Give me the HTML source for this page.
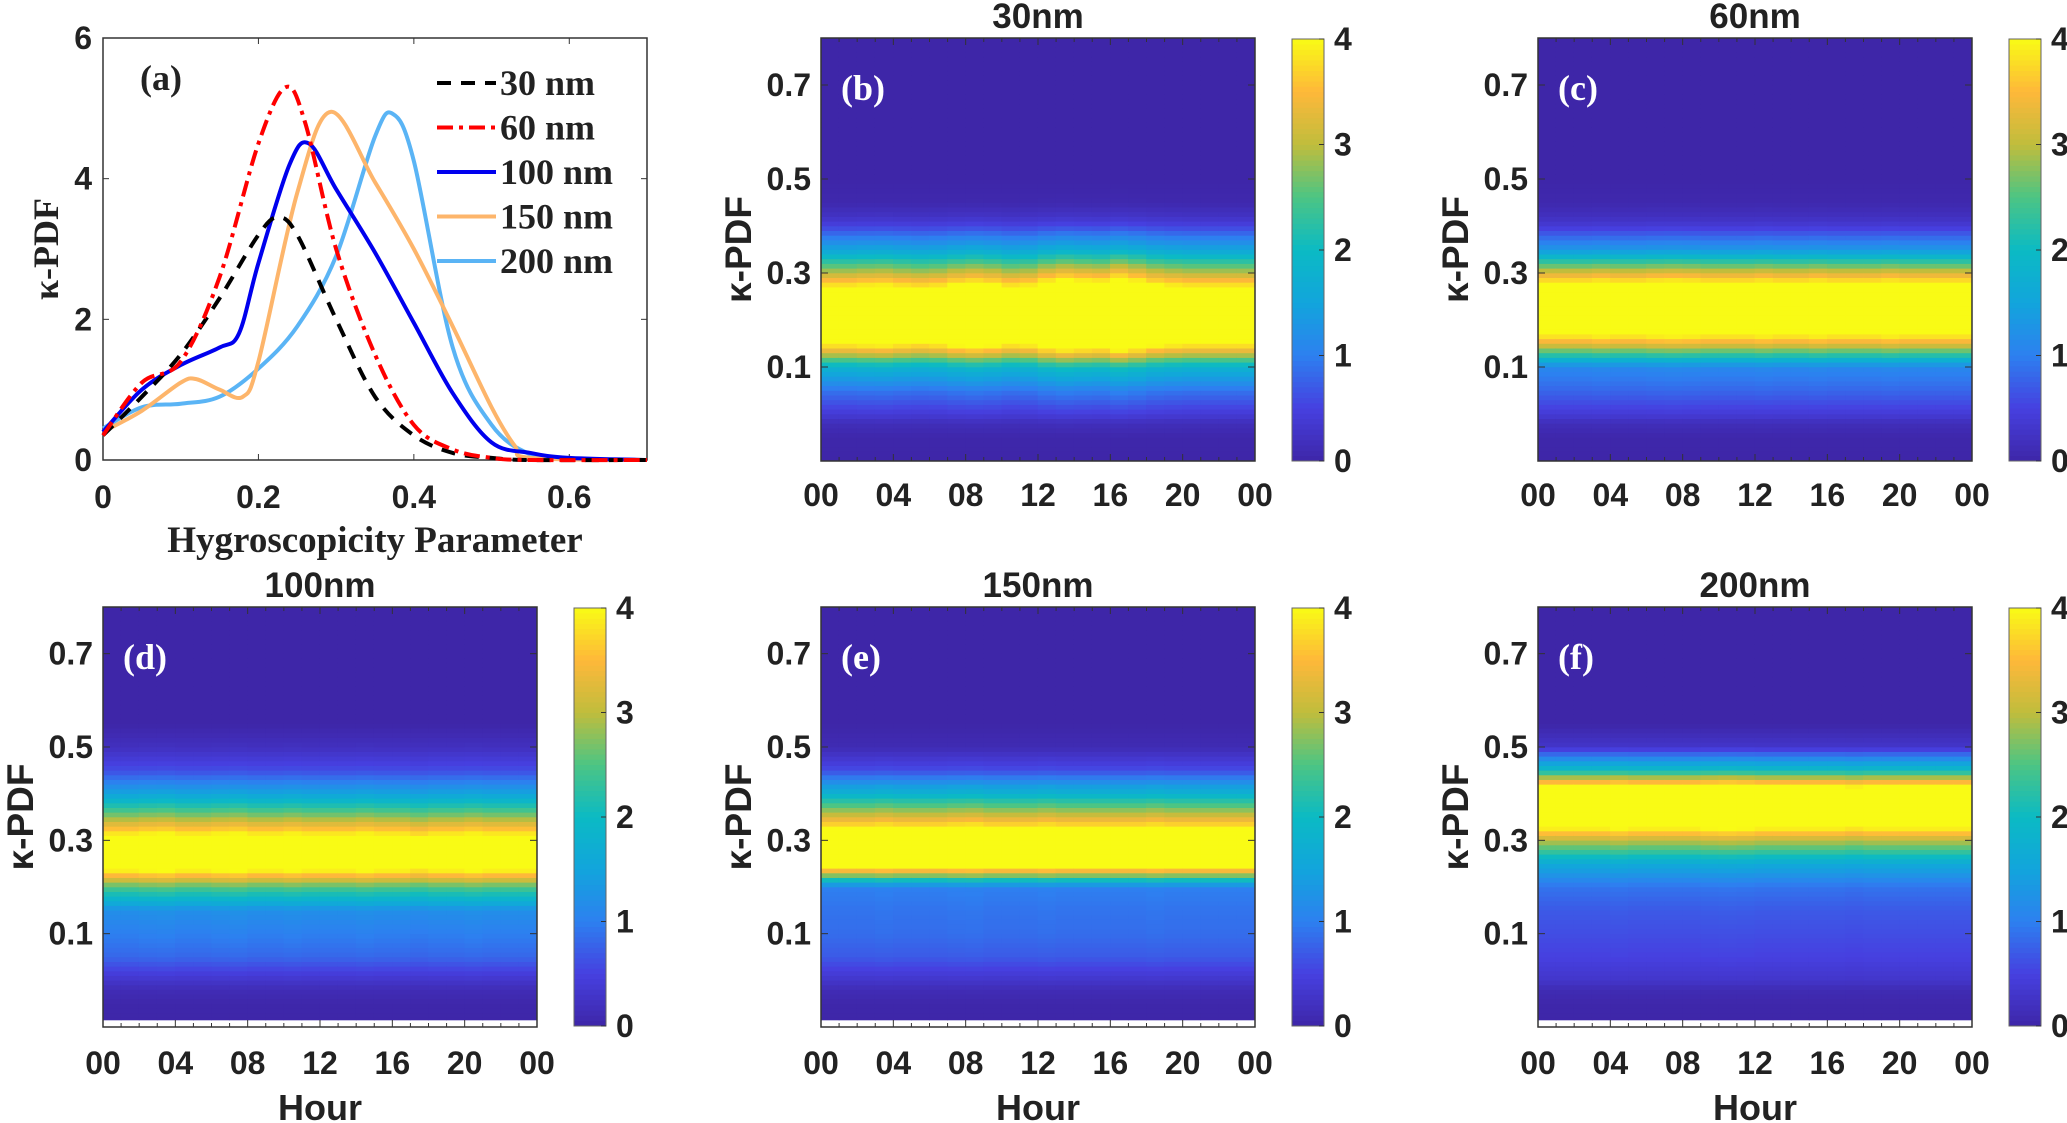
<!DOCTYPE html>
<html><head><meta charset="utf-8"><style>
html,body{margin:0;padding:0;background:#fff}
svg{display:block}
text{font-family:"Liberation Sans",sans-serif;font-weight:bold;fill:#222}
.serif{font-family:"Liberation Serif",serif}
</style></head><body>
<svg id="fig" width="2067" height="1123" viewBox="0 0 2067 1123"></svg>
<script>
// ---------- Panel (a) data ----------
const x30=[0,0.05,0.1,0.15,0.2,0.225,0.25,0.3,0.35,0.4,0.45,0.5,0.55,0.7];
const y30=[0.35,0.9,1.5,2.3,3.2,3.45,3.2,2.0,0.9,0.35,0.1,0.03,0,0];
const x60=[0,0.05,0.1,0.15,0.2,0.235,0.26,0.3,0.35,0.4,0.45,0.5,0.55,0.7];
const y60=[0.35,1.1,1.4,2.6,4.5,5.3,4.8,3.0,1.5,0.5,0.15,0.03,0,0];
const x100=[0,0.05,0.1,0.15,0.175,0.2,0.24,0.265,0.3,0.35,0.4,0.45,0.5,0.55,0.6,0.7];
const y100=[0.4,1.0,1.35,1.6,1.8,2.8,4.2,4.5,3.85,2.95,1.95,0.95,0.25,0.1,0.03,0];
const x150=[0,0.05,0.1,0.12,0.15,0.18,0.2,0.25,0.293,0.35,0.4,0.45,0.5,0.53,0.55,0.7];
const y150=[0.4,0.7,1.1,1.15,1.0,0.9,1.4,3.8,4.95,3.95,3.0,1.9,0.75,0.2,0.03,0];
const x200=[0,0.05,0.1,0.15,0.2,0.25,0.3,0.35,0.373,0.4,0.45,0.5,0.55,0.6,0.7];
const y200=[0.45,0.75,0.8,0.9,1.3,1.9,2.9,4.6,4.92,4.25,1.6,0.5,0.08,0.02,0];
const aXTicks=[0,0.2,0.4,0.6];
const aYTicks=[0,2,4,6];
const legendLabels=["30 nm","60 nm","100 nm","150 nm","200 nm"];

// ---------- Heatmap data ----------
const kappaGrid=[-0.1,-0.05,-0.02,0,0.05,0.1,0.15,0.2,0.25,0.3,0.35,0.4,0.42,0.45,0.5,0.55,0.8];
const prof30=[0,0.02,0.15,0.4,0.9,1.8,4.0,5.0,4.6,3.0,1.5,0.5,0.25,0.05,0,0,0];
const prof60=[0,0.02,0.15,0.4,0.8,1.1,3.3,5.0,5.0,3.2,1.3,0.4,0.2,0.05,0,0,0];
const prof100=[0,0.02,0.12,0.3,0.8,1.0,1.2,2.5,4.5,4.3,2.8,1.5,1.1,0.6,0.2,0,0];
const prof150=[0,0.02,0.12,0.3,0.7,0.85,0.9,1.0,4.5,4.8,3.2,1.8,1.3,0.6,0.1,0,0];
const prof200=[0,0.02,0.1,0.3,0.5,0.6,0.7,0.9,1.6,3.0,4.8,4.6,3.8,2.0,0.3,0,0];
const hour30=[1,1,1.02,1.03,1,0.98,1,1.05,1.08,1.05,1,1.02,1.1,1.15,1.12,1.1,1.18,1.12,1.05,1.02,1,1,1,1];
const hour60=[1,1,1,1.02,1,1,1.02,1.03,1.02,1,1,1,1.02,1,1,1.02,1,1,1,1.02,1,1,1,1];
const hour100=[1,1,1.02,1.03,1,1,1.02,1.03,1,1,1.02,1,1,1,1.02,1,1,0.97,1,1,1.02,1,1,1];
const hour150=[1,1,1,1.02,1,1,1,1.02,1.03,1,1,1,1.02,1,1,1,1,1,1.02,1,1,1,1,1];
const hour200=[1,1,1,1,1.02,1,1,1,1,1.02,1.03,1.02,1,1,1,1,1,0.98,1,1,1,1,1,1];
const hourTicks=["00","04","08","12","16","20","00"];
const kTicks=[0.1,0.3,0.5,0.7];
const cbTicks=[0,1,2,3,4];

const NS="http://www.w3.org/2000/svg";
const svg=document.getElementById('fig');
function el(tag,attrs,parent,txt){const e=document.createElementNS(NS,tag);for(const k in attrs)e.setAttribute(k,attrs[k]);if(txt!==undefined)e.textContent=txt;(parent||svg).appendChild(e);return e;}

// ---------- Panel (a) ----------
const A={l:103,r:647,t:38,b:460};
const ax=v=>A.l+v/0.7*(A.r-A.l);
const ay=v=>A.b-v/6*(A.b-A.t);
const ga=el('g',{});


el('rect',{x:A.l,y:A.t,width:A.r-A.l,height:A.b-A.t,fill:'#fff',stroke:'#333','stroke-width':1.5},ga);
aXTicks.forEach(v=>{el('line',{x1:ax(v),x2:ax(v),y1:A.b,y2:A.b-6,stroke:'#333'},ga);el('line',{x1:ax(v),x2:ax(v),y1:A.t,y2:A.t+6,stroke:'#333'},ga);
 const t=el('text',{x:ax(v),y:508,'text-anchor':'middle','font-size':32},ga,String(v));});
aYTicks.forEach(v=>{el('line',{x1:A.l,x2:A.l+6,y1:ay(v),y2:ay(v),stroke:'#333'},ga);el('line',{x1:A.r,x2:A.r-6,y1:ay(v),y2:ay(v),stroke:'#333'},ga);
 const t=el('text',{x:92,y:ay(v)+11,'text-anchor':'end','font-size':32},ga,String(v));});
function smooth(xs,ys){const p=xs.map((x,i)=>[ax(x),ay(ys[i])]);let d='M'+p[0][0]+','+p[0][1];
 for(let i=0;i<p.length-1;i++){const p0=p[Math.max(0,i-1)],p1=p[i],p2=p[i+1],p3=p[Math.min(p.length-1,i+2)];
 const c1=[p1[0]+(p2[0]-p0[0])/6,p1[1]+(p2[1]-p0[1])/6],c2=[p2[0]-(p3[0]-p1[0])/6,p2[1]-(p3[1]-p1[1])/6];
 d+=' C'+c1[0]+','+c1[1]+' '+c2[0]+','+c2[1]+' '+p2[0]+','+p2[1];}return d;}
const series=[[x30,y30,'#000','14,10'],[x60,y60,'#f00','16,6,4,6'],[x100,y100,'#0000ee',''],[x150,y150,'#fdb56b',''],[x200,y200,'#5ab4f5','']];
const order=[4,3,2,0,1];
order.forEach(i=>{const s=series[i];const p=el('path',{d:smooth(s[0],s[1]),fill:'none',stroke:s[2],'stroke-width':4,'stroke-dasharray':s[3]},ga);
 });
const lg=el('g',{},ga);


legendLabels.forEach((lab,i)=>{const y=83+i*44.5;const s=series[i];
 el('line',{x1:437,x2:496,y1:y,y2:y,stroke:s[2],'stroke-width':4,'stroke-dasharray':s[3]},lg);
 const t=el('text',{x:500,y:y+12,'font-size':36,class:'serif'},lg,lab);});
el('text',{x:140,y:90,'font-size':36,class:'serif'},ga,'(a)');
const axl=el('text',{x:375,y:552,'text-anchor':'middle','font-size':37,class:'serif'},ga,'Hygroscopicity Parameter');

const ayl=el('text',{transform:'translate(58,249) rotate(-90)','text-anchor':'middle','font-size':36,class:'serif'},ga,'κ-PDF');


// ---------- Colormap ----------
const cmStops=[[0,'#3e26a8'],[0.125,'#4640e0'],[0.25,'#2d80f0'],[0.375,'#12a5dc'],[0.5,'#0bbac4'],[0.625,'#4cc584'],[0.75,'#c0bd3c'],[0.875,'#feb83a'],[1,'#f9fb15']];
function hx(c){return [parseInt(c.substr(1,2),16),parseInt(c.substr(3,2),16),parseInt(c.substr(5,2),16)];}
function cmap(v){v=Math.max(0,Math.min(1,v));for(let i=0;i<cmStops.length-1;i++){if(v<=cmStops[i+1][0]){const f=(v-cmStops[i][0])/(cmStops[i+1][0]-cmStops[i][0]);const a=hx(cmStops[i][1]),b=hx(cmStops[i+1][1]);
 return 'rgb('+a.map((x,j)=>Math.round(x+(b[j]-x)*f)).join(',')+')';}}return cmStops[cmStops.length-1][1];}
function interp(k,prof){for(let i=0;i<kappaGrid.length-1;i++){if(k<=kappaGrid[i+1]){const f=(k-kappaGrid[i])/(kappaGrid[i+1]-kappaGrid[i]);return prof[i]+(prof[i+1]-prof[i])*f;}}return prof[prof.length-1];}

const panels=[
 {id:'b',title:'30nm',col:1,row:0,prof:prof30,hour:hour30},
 {id:'c',title:'60nm',col:2,row:0,prof:prof60,hour:hour60},
 {id:'d',title:'100nm',col:0,row:1,prof:prof100,hour:hour100},
 {id:'e',title:'150nm',col:1,row:1,prof:prof150,hour:hour150},
 {id:'f',title:'200nm',col:2,row:1,prof:prof200,hour:hour200}];
const lefts=[103,821,1538];
panels.forEach(P=>{
 const L=lefts[P.col],R=L+434,T=P.row?607:38,B=P.row?1027:461,DB=P.row?1020:461;
 const xs=h=>L+h/24*(R-L), ys=k=>B-(k+0.1)/0.9*(B-T);
 const g=el('g',{});
 
 
 el('rect',{x:L,y:T,width:R-L,height:B-T,fill:'#fff'},g);
 const hm=el('g',{},g);
 
 
 for(let h=0;h<24;h++){for(let j=0;j<90;j++){const k0=-0.1+j*0.01,k1=k0+0.01;
  let y0=ys(k1),y1=Math.min(ys(k0),DB);if(y1<=y0)continue;
  const v=interp(k0+0.005,P.prof)*P.hour[h];
  el('rect',{x:xs(h)-0.3,y:y0-0.3,width:(R-L)/24+0.6,height:y1-y0+0.6,fill:cmap(v/4)},hm);}}
 el('rect',{x:L,y:T,width:R-L,height:B-T,fill:'none',stroke:'#333','stroke-width':1.5},g);
 for(let h=0;h<=24;h++){const tl=h%4===0?7:4;el('line',{x1:xs(h),x2:xs(h),y1:B,y2:B-tl,stroke:'#333'},g);el('line',{x1:xs(h),x2:xs(h),y1:T,y2:T+tl,stroke:'#333'},g);}
 hourTicks.forEach((lab,i)=>{const t=el('text',{x:xs(i*4),y:P.row?1074:506,'text-anchor':'middle','font-size':32},g,lab);});
 kTicks.forEach(k=>{el('line',{x1:L,x2:L+7,y1:ys(k),y2:ys(k),stroke:'#333'},g);el('line',{x1:R,x2:R-7,y1:ys(k),y2:ys(k),stroke:'#333'},g);
  const t=el('text',{x:L-10,y:ys(k)+11,'text-anchor':'end','font-size':32},g,k.toFixed(1));});
 const tt=el('text',{x:(L+R)/2,y:P.row?597:28,'text-anchor':'middle','font-size':35},g,P.title);
 
 el('text',{x:L+20,y:T+62,'font-size':36,class:'serif',style:'fill:#fff'},g,'('+P.id+')');
 const yl=el('text',{transform:'translate('+(L-70)+','+((T+B)/2)+') rotate(-90)','text-anchor':'middle','font-size':37},g,'κ-PDF');
 
 if(P.row){const xl=el('text',{x:(L+R)/2,y:1120,'text-anchor':'middle','font-size':36},g,'Hour');}
 // colorbar
 const CL=L+471,CT=T+1,CB=P.row?1026:461;
 const cb=el('g',{},g);
 
 
 const n=80;for(let i=0;i<n;i++){const y0=CB-(i+1)/n*(CB-CT);el('rect',{x:CL,y:y0-0.3,width:32,height:(CB-CT)/n+0.6,fill:cmap((i+0.5)/n)},cb);}
 el('rect',{x:CL,y:CT,width:32,height:CB-CT,fill:'none',stroke:'#666','stroke-width':1},cb);
 cbTicks.forEach(v=>{const y=CB-v/4*(CB-CT);el('line',{x1:CL+32,x2:CL+27,y1:y,y2:y,stroke:'#333'},cb);
  const t=el('text',{x:CL+42,y:y+11,'font-size':32},cb,String(v));});
});
</script>
</body></html>
